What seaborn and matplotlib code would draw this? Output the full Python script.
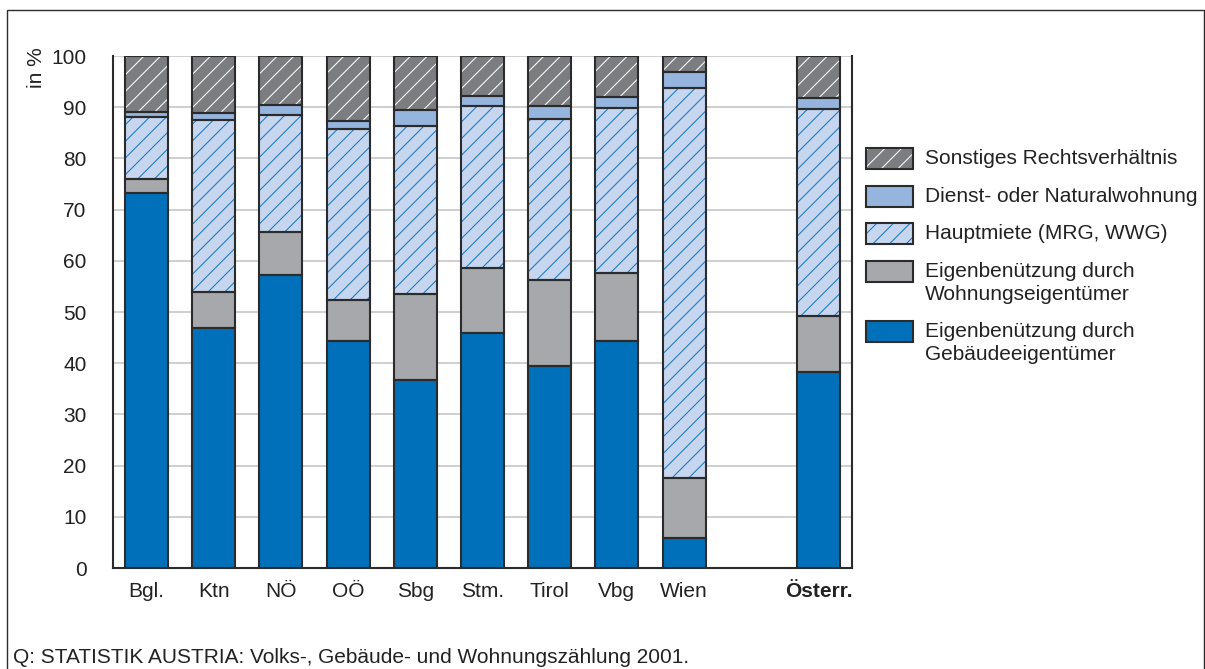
import matplotlib
matplotlib.use("Agg")
import matplotlib.pyplot as plt
from matplotlib.patches import Rectangle
import pandas as pd
import seaborn as sns

# Wohnungen nach Rechtsverhaeltnis, Anteile in %
regions = ["Bgl.", "Ktn", "NÖ", "OÖ", "Sbg", "Stm.", "Tirol", "Vbg", "Wien", "Österr."]
order = ["Bgl.", "Ktn", "NÖ", "OÖ", "Sbg", "Stm.", "Tirol", "Vbg", "Wien", " ", "Österr."]
gebaeude = [73.2, 46.9, 57.2, 44.3, 36.7, 45.9, 39.5, 44.3, 5.9, 38.3]
wohnung = [2.8, 7.0, 8.4, 8.0, 16.8, 12.7, 16.8, 13.3, 11.7, 10.9]
hauptmiete = [12.1, 33.6, 22.9, 33.4, 32.8, 31.6, 31.4, 32.2, 76.2, 40.4]
dienst = [1.0, 1.4, 1.9, 1.7, 3.2, 2.0, 2.5, 2.2, 3.0, 2.2]
sonstiges = [10.9, 11.1, 9.6, 12.6, 10.5, 7.8, 9.8, 8.0, 3.2, 8.2]
yticks = list(range(0, 101, 10))

df = pd.DataFrame({"region": regions, "gebaeude": gebaeude, "wohnung": wohnung,
                   "hauptmiete": hauptmiete, "dienst": dienst, "sonstiges": sonstiges})

EDGE = "#2b2b2b"
FS = 15
# column, legend label, fill colour, hatch, hatch colour
series = [
    ("gebaeude", "Eigenbenützung durch\nGebäudeeigentümer", "#0070ba", "", "#0070ba"),
    ("wohnung", "Eigenbenützung durch\nWohnungseigentümer", "#a7a8ab", "", "#a7a8ab"),
    ("hauptmiete", "Hauptmiete (MRG, WWG)", "#c6d6ef", "//", "#1878c2"),
    ("dienst", "Dienst- oder Naturalwohnung", "#95b5de", "", "#95b5de"),
    ("sonstiges", "Sonstiges Rechtsverhältnis", "#7c7d80", "//", "#ffffff"),
]

sns.set_style("white")
plt.rcParams["font.family"] = ["Liberation Sans", "DejaVu Sans"]
plt.rcParams["hatch.linewidth"] = 0.75

W, H = 1205, 669
fig = plt.figure(figsize=(W / 100, H / 100), dpi=100)
ax = fig.add_axes([113 / W, (H - 568) / H, (852 - 113) / W, (568 - 56) / H])

bottom = pd.Series(0.0, index=df.index)
for col, label, color, hatch, hcolor in series:
    sns.barplot(data=df, x="region", y=col, order=order, bottom=bottom.values,
                color=color, saturation=1, width=0.64, errorbar=None, ax=ax)
    for p in ax.containers[-1]:
        p.set_facecolor(color)
        p.set_edgecolor(hcolor)
        p.set_hatch(hatch)
        p.set_linewidth(0)
        p.set_zorder(2)
    sns.barplot(data=df, x="region", y=col, order=order, bottom=bottom.values,
                color=color, saturation=1, width=0.64, errorbar=None, ax=ax)
    for p in ax.containers[-1]:
        p.set_facecolor("none")
        p.set_edgecolor(EDGE)
        p.set_linewidth(1.5)
        p.set_zorder(3)
    bottom += df[col]

ax.set_xlim(-0.5, 10.5)
ax.set_ylim(0, 100)
ax.set_yticks(yticks)
ax.set_xlabel("")
ax.set_ylabel("")
ax.yaxis.grid(True, color="#cccccc", lw=1.3)
ax.set_axisbelow(True)
for side in ["left", "bottom", "right"]:
    ax.spines[side].set_color(EDGE)
    ax.spines[side].set_linewidth(1.5)
ax.spines["top"].set_visible(False)
ax.tick_params(axis="y", direction="out", length=11, width=1.3, color=EDGE,
               pad=8, labelsize=FS, labelcolor="#222222")
ax.tick_params(axis="x", length=0, pad=10, labelsize=FS, labelcolor="#222222")
for t in ax.get_xticklabels():
    if t.get_text() == "Österr.":
        t.set_fontweight("bold")

fig.text(36 / W, 1 - 68 / H, "in %", rotation=90, ha="center", va="center",
         fontsize=FS, color="#222222")

# legend drawn by hand so the swatches sit on the first text line
legend_rows = [("sonstiges", 148), ("dienst", 186), ("hauptmiete", 223),
               ("wohnung", 261), ("gebaeude", 321)]
props = {s[0]: s for s in series}
for key, top in legend_rows:
    _, label, color, hatch, hcolor = props[key]
    xy = (866 / W, 1 - (top + 21) / H)
    fig.add_artist(Rectangle(xy, 47 / W, 21 / H, transform=fig.transFigure,
                             facecolor=color, edgecolor=hcolor, hatch=hatch, lw=0))
    fig.add_artist(Rectangle(xy, 47 / W, 21 / H, transform=fig.transFigure,
                             facecolor="none", edgecolor=EDGE, lw=1.5))
    fig.text(925 / W, 1 - (top + 10.5) / H, label.split("\n")[0], ha="left",
             va="center", fontsize=FS, color="#222222")
    if "\n" in label:
        fig.text(925 / W, 1 - (top + 33.5) / H, label.split("\n")[1], ha="left",
                 va="center", fontsize=FS, color="#222222")

fig.add_artist(Rectangle((7 / W, -0.02), (1204 - 7) / W, 1 - 10 / H + 0.02,
                         transform=fig.transFigure, fill=False, edgecolor=EDGE, lw=1))
fig.text(13 / W, 6 / H, "Q: STATISTIK AUSTRIA: Volks-, Gebäude- und Wohnungszählung 2001.",
         ha="left", va="baseline", fontsize=FS, color="#222222")

fig.savefig("out.png", dpi=100)
